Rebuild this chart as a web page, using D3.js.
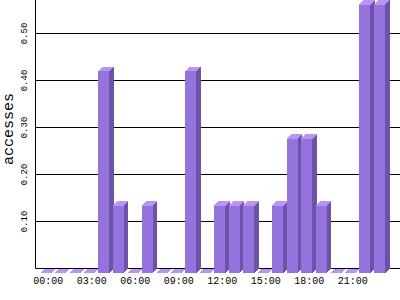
<!DOCTYPE html>
<html>
<head>
<meta charset="utf-8">
<script src="https://cdn.jsdelivr.net/npm/d3@7"></script>
<style>
	body { margin: 0; background: #fff; }
	svg { display: block; }
</style>
</head>
<body>
<svg></svg>
<script>
// Data variables
let hours = ["00:00", "01:00", "02:00", "03:00", "04:00", "05:00", "06:00", "07:00",
	"08:00", "09:00", "10:00", "11:00", "12:00", "13:00", "14:00", "15:00",
	"16:00", "17:00", "18:00", "19:00", "20:00", "21:00", "22:00", "23:00"];
let accesses = [0, 0, 0, 0, 0.429, 0.143, 0, 0.143, 0, 0, 0.429, 0,
	0.143, 0.143, 0.143, 0, 0.143, 0.286, 0.286, 0.143, 0, 0, 0.571, 0.571];
let xTickLabels = ["00:00", "03:00", "06:00", "09:00", "12:00", "15:00", "18:00", "21:00"];
let yTickValues = [0.1, 0.2, 0.3, 0.4, 0.5];

// Chart variables
let width = 400;
let height = 300;
let axisX = 35.5;
let baseY = 268.5;
let depth = 4.5;
let xScale;
let yScale;

let svg = d3.select("svg");

let drawChart = () => {
	svg.attr("width", width);
	svg.attr("height", height);
};

let drawScales = () => {
	xScale = d3
		.scaleBand()
		.domain(hours)
		.range([40, 385])
		.paddingInner(0.207)
		.paddingOuter(0);

	yScale = d3
		.scaleLinear()
		.domain([0, 0.6])
		.range([baseY, baseY - 282]);
};

let drawGrid = () => {
	svg
		.append("g")
		.selectAll("line")
		.data(yTickValues)
		.enter()
		.append("line")
		.attr("x1", axisX)
		.attr("x2", width)
		.attr("y1", (d) => yScale(d))
		.attr("y2", (d) => yScale(d))
		.attr("stroke", "#000")
		.attr("stroke-width", 1);

	// axes
	svg.append("line")
		.attr("x1", axisX).attr("x2", width)
		.attr("y1", baseY).attr("y2", baseY)
		.attr("stroke", "#000");
	svg.append("line")
		.attr("x1", axisX).attr("x2", axisX)
		.attr("y1", 0).attr("y2", baseY)
		.attr("stroke", "#000");
};

let drawBars = () => {
	let bw = xScale.bandwidth();
	let g = svg.append("g").attr("shape-rendering", "crispEdges");
	let bars = g.selectAll("g")
		.data(hours.map((h, i) => ({ h: h, v: accesses[i] })))
		.enter()
		.append("g");

	// front face
	bars.append("rect")
		.attr("x", (d) => xScale(d.h))
		.attr("y", (d) => yScale(d.v) + depth)
		.attr("width", bw)
		.attr("height", (d) => baseY - yScale(d.v))
		.attr("fill", "#9673dc");

	// side face
	bars.append("path")
		.attr("d", (d) => {
			let x0 = xScale(d.h) + bw;
			let yt = yScale(d.v) + depth;
			let yb = baseY + depth;
			return "M" + x0 + "," + yt + "L" + (x0 + depth) + "," + (yt - depth) +
				"L" + (x0 + depth) + "," + (yb - depth) + "L" + x0 + "," + yb + "Z";
		})
		.attr("fill", "#6c52a8");

	// top face
	bars.append("path")
		.attr("d", (d) => {
			let x0 = xScale(d.h);
			let yt = yScale(d.v) + depth;
			return "M" + x0 + "," + yt + "L" + (x0 + depth) + "," + (yt - depth) +
				"L" + (x0 + bw + depth) + "," + (yt - depth) + "L" + (x0 + bw) + "," + yt + "Z";
		})
		.attr("fill", "#b994f2");
};

let drawLabels = () => {
	let bw = xScale.bandwidth();

	svg.append("g")
		.selectAll("text")
		.data(xTickLabels)
		.enter()
		.append("text")
		.attr("x", (d) => xScale(d) + bw / 2 + 2.5)
		.attr("y", 284)
		.attr("text-anchor", "middle")
		.attr("font-family", "Liberation Mono")
		.attr("font-size", 10)
		.attr("fill", "#000")
		.text((d) => d);

	svg.append("g")
		.selectAll("text")
		.data(yTickValues)
		.enter()
		.append("text")
		.attr("transform", (d) => "translate(27," + yScale(d) + ") rotate(-90)")
		.attr("text-anchor", "middle")
		.attr("font-family", "Liberation Mono")
		.attr("font-size", 9)
		.attr("fill", "#000")
		.text((d) => d3.format(".2f")(d));

	svg.append("text")
		.attr("transform", "translate(13,129) rotate(-90)")
		.attr("text-anchor", "middle")
		.attr("font-family", "Liberation Mono")
		.attr("font-size", 15)
		.attr("fill", "#000")
		.text("accesses");
};

drawChart();
drawScales();
drawGrid();
drawBars();
drawLabels();
</script>
</body>
</html>
